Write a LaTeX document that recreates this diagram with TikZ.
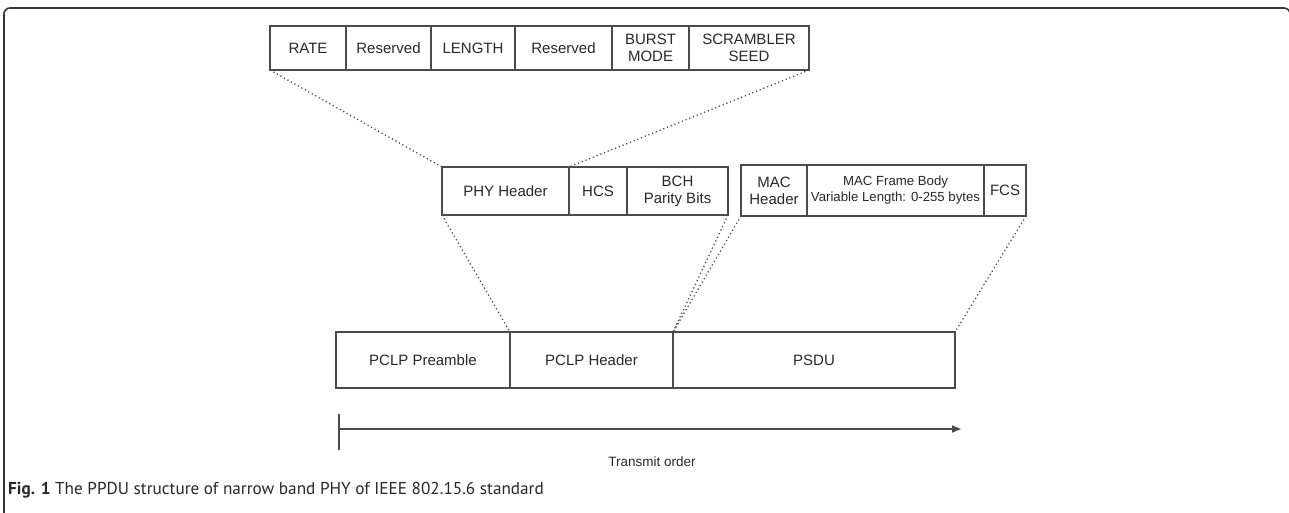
\documentclass[tikz,border=0pt]{standalone}
\usepackage{fontspec}
\setmainfont{Liberation Sans}
\newfontfamily\capfont{PT Sans}
\usepackage{color}
\definecolor{myframe}{RGB}{55,55,55}
\definecolor{myline}{RGB}{75,75,75}
\definecolor{mytext}{RGB}{40,40,40}
\usepackage{tikz}
\usetikzlibrary{arrows.meta,positioning}
\tikzstyle{field}=[draw=myline,line width=1.1pt,anchor=north west,inner sep=0pt,outer sep=0pt,align=center,text=mytext,font=\fontsize{15}{17}\selectfont]
\tikzstyle{smallfield}=[field,font=\fontsize{13.2}{16}\selectfont]
\tikzstyle{zoomline}=[myline,line width=1.3pt,dash pattern=on 1.2pt off 2.8pt]

\begin{document}
\begin{tikzpicture}[x=1pt,y=-1pt]
\useasboundingbox (0,0) rectangle (1289,512);
\draw[myframe,line width=1.6pt,rounded corners=6pt] (4,530) -- (4,8) -- (1290,8) -- (1290,530);
\draw (270,26) node [field,minimum width=76,minimum height=44] (rate) {RATE};
\draw (346,26) node [field,minimum width=85,minimum height=44] (res1) {Reserved};
\draw (431,26) node [field,minimum width=84,minimum height=44] (length) {LENGTH};
\draw (515,26) node [field,minimum width=97,minimum height=44] (res2) {Reserved};
\draw (612,26) node [field,minimum width=77,minimum height=44] (burst) {BURST\\MODE};
\draw (689,26) node [field,minimum width=120,minimum height=44] (seed) {SCRAMBLER\\SEED};
\draw (442,167) node [field,minimum width=127,minimum height=48] (phy) {PHY Header};
\draw (569,167) node [field,minimum width=58,minimum height=48] (hcs) {HCS};
\draw (627,167) node [field,minimum width=101,minimum height=48] (bch) {BCH\\Parity Bits};
\draw (741,165) node [field,minimum width=66,minimum height=51] (machdr) {MAC\\Header};
\draw (807,165) node [smallfield,minimum width=177,minimum height=51] (body) {MAC Frame Body\\Variable Length: 0-255 bytes};
\draw (984,165) node [field,minimum width=42,minimum height=51] (fcs) {FCS};
\draw (336,332) node [field,minimum width=174,minimum height=56] (preamble) {PCLP Preamble};
\draw (510,332) node [field,minimum width=163,minimum height=56] (pclphdr) {PCLP Header};
\draw (673,332) node [field,minimum width=282,minimum height=56] (psdu) {PSDU};
\draw[zoomline] (rate.south west) -- (phy.north west);
\draw[zoomline] (seed.south east) -- (hcs.north west);
\draw[zoomline] (phy.south west) -- (pclphdr.north west);
\draw[zoomline] (bch.south east) -- (pclphdr.north east);
\draw[zoomline] (machdr.south west) -- (psdu.north west);
\draw[zoomline] (fcs.south east) -- (psdu.north east);
\coordinate (tick1) at (339,414);
\coordinate (tick2) at (339,450);
\coordinate (start) at (339,429);
\coordinate (stop) at (961,429);
\draw[myline,line width=1.6pt] (tick1) -- (tick2);
\draw[myline,line width=1.6pt,-{Triangle[length=9pt,width=7pt]}] (start) -- (stop);
\draw (652,462) node [text=mytext,font=\fontsize{13.5}{16}\selectfont] (order) {Transmit order};
\draw (8,490) node [anchor=west,inner sep=0pt,text=mytext,font=\capfont\fontsize{17.2}{20}\selectfont] (caption) {\textbf{Fig. 1} The PPDU structure of narrow band PHY of IEEE 802.15.6 standard};
\end{tikzpicture}
\end{document}
